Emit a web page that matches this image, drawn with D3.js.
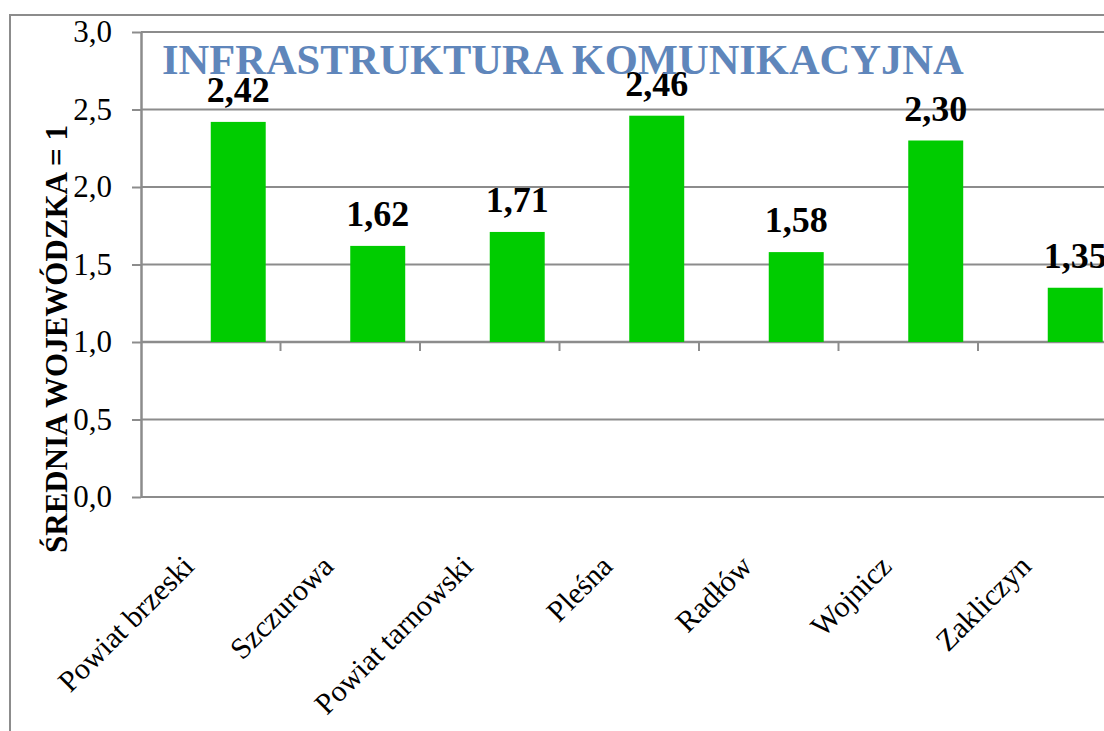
<!DOCTYPE html>
<html>
<head>
<meta charset="utf-8">
<script src="https://cdn.jsdelivr.net/npm/d3@7"></script>
<style>
  body { margin: 0; background: white; }
  svg { display: block; }
</style>
</head>
<body>
<script>
var categories = ["Powiat brzeski", "Szczurowa", "Powiat tarnowski", "Pleśna", "Radłów", "Wojnicz", "Zakliczyn"];
var values = [2.42, 1.62, 1.71, 2.46, 1.58, 2.30, 1.35];
var yTicks = [0, 0.5, 1.0, 1.5, 2.0, 2.5, 3.0];
var baseline = 1.0;

var width = 1104, height = 731;
var plotLeft = 141, plotTop = 32, plotBottom = 497;
var bandW = 139.5;
var serif = "'Liberation Serif', 'Times New Roman', serif";
var gray = "#8c8c8c";

var fmt = function(d, n) { return d.toFixed(n).replace(".", ","); }

var svg = d3.select("body").append("svg")
    .attr("width", width)
    .attr("height", height)
    .style("font-family", serif)

// outer chart frame
svg.append("rect")
    .attr("x", 10)
    .attr("y", 15)
    .attr("width", 1300)
    .attr("height", 900)
    .attr("fill", "white")
    .style("stroke", gray)
    .style("stroke-width", 2)

var y = d3.scaleLinear().domain([0, 3]).range([plotBottom, plotTop])
var x = d3.scaleBand().domain(categories).range([plotLeft, plotLeft + categories.length * bandW]).padding(0)

// gridlines
svg.selectAll(".grid")
    .data(yTicks)
    .enter()
    .append("line")
    .attr("class", "grid")
    .attr("x1", plotLeft)
    .attr("x2", width + 20)
    .attr("y1", d => y(d))
    .attr("y2", d => y(d))
    .style("stroke", gray)
    .style("stroke-width", 2)

// y axis
var yAxis = svg.append("g")
    .attr("transform", "translate(" + plotLeft + ",0)")
    .call(d3.axisLeft(y).tickValues(yTicks).tickSize(9).tickSizeOuter(0).tickPadding(20).tickFormat(d => fmt(d, 1)))
    .attr("font-family", serif)
    .attr("font-size", 31)

yAxis.select(".domain").style("stroke", gray).style("stroke-width", 2.5)
yAxis.selectAll(".tick line").style("stroke", gray).style("stroke-width", 2)
yAxis.selectAll("text").style("fill", "black")

// x axis crosses at the baseline value
var xAxis = svg.append("g")
    .attr("transform", "translate(0," + y(baseline) + ")")

xAxis.append("line")
    .attr("x1", plotLeft)
    .attr("x2", width + 20)
    .style("stroke", gray)
    .style("stroke-width", 2.5)

xAxis.selectAll(".xtick")
    .data(categories)
    .enter()
    .append("line")
    .attr("class", "xtick")
    .attr("x1", d => x(d) + x.bandwidth())
    .attr("x2", d => x(d) + x.bandwidth())
    .attr("y1", 0)
    .attr("y2", 9)
    .style("stroke", gray)
    .style("stroke-width", 2)

// bars (sit in the right half of each category)
var barW = x.bandwidth() * 0.394;

var bars = svg.selectAll(".bar")
    .data(categories)
    .enter()
    .append("g")
    .attr("class", "bar")

bars.append("rect")
    .attr("x", d => x(d) + x.bandwidth() / 2)
    .attr("y", (d, i) => y(values[i]))
    .attr("width", barW)
    .attr("height", (d, i) => y(baseline) - y(values[i]))
    .attr("fill", "#00cc00")

bars.append("text")
    .attr("x", d => x(d) + x.bandwidth() / 2 + barW / 2)
    .attr("y", (d, i) => y(values[i]) - 20)
    .text((d, i) => fmt(values[i], 2))
    .style("text-anchor", "middle")
    .style("font-weight", "bold")
    .style("font-size", "36px")

// category labels
svg.selectAll(".catLabel")
    .data(categories)
    .enter()
    .append("text")
    .attr("class", "catLabel")
    .attr("transform", d => "translate(" + (x(d) + x.bandwidth() / 2 - 15) + ",568) rotate(-45)")
    .text(d => d)
    .style("text-anchor", "end")
    .style("font-size", "30px")

// axis title
svg.append("text")
    .attr("transform", "translate(67,339) rotate(-90)")
    .text("ŚREDNIA WOJEWÓDZKA = 1")
    .style("text-anchor", "middle")
    .style("font-weight", "bold")
    .style("font-size", "31px")

// chart title
svg.append("text")
    .attr("x", 162)
    .attr("y", 74)
    .text("INFRASTRUKTURA KOMUNIKACYJNA")
    .style("font-weight", "bold")
    .style("font-size", "42.5px")
    .style("fill", "#5f86bb")
</script>
</body>
</html>
